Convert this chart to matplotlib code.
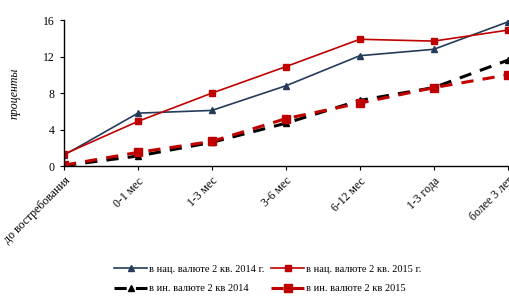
import matplotlib.pyplot as plt
import numpy as np

plt.rcParams['font.family'] = ['Liberation Serif', 'DejaVu Serif']

categories = ["до востребования", "0-1 мес", "1-3 мес", "3-6 мес",
              "6-12 мес", "1-3 года", "более 3 лет"]
nat_2014 = [1.2, 5.8, 6.1, 8.8, 12.1, 12.8, 15.8]
nat_2015 = [1.3, 4.9, 8.0, 10.9, 13.9, 13.7, 14.9]
for_2014 = [0.05, 1.1, 2.6, 4.7, 7.2, 8.6, 11.6]
for_2015 = [0.1, 1.5, 2.7, 5.2, 6.9, 8.6, 10.0]

x = np.arange(len(categories))

fig = plt.figure(figsize=(5.1, 2.96), dpi=100)
ax = fig.add_axes([0.1255, 0.439, 0.87, 0.493])

l1, = ax.plot(x, nat_2014, color="#243b5a", lw=1.2, marker="^", ms=5,
              label="в нац. валюте 2 кв. 2014 г.")
l2, = ax.plot(x, nat_2015, color="#c00000", lw=1.2, marker="s", ms=4.5,
              label="в нац. валюте 2 кв. 2015 г.")
l3, = ax.plot(x, for_2014, color="black", lw=2.2, ls=(0, (4, 3)), marker="^", ms=5,
              label="в ин. валюте 2 кв 2014")
l4, = ax.plot(x, for_2015, color="#c00000", lw=2.2, ls=(0, (4, 3)), marker="s", ms=6,
              label="в ин. валюте 2 кв 2015")

ax.set_xlim(0, 6)
ax.set_ylim(0, 16)
ax.set_yticks([0, 4, 8, 12, 16])
ax.set_xticks(x)
ax.set_xticklabels(categories, rotation=45, ha="right", rotation_mode="anchor")
ax.tick_params(labelsize=8.5, length=3, width=0.8)
ax.spines["top"].set_visible(False)
ax.spines["right"].set_visible(False)
for s in ["left", "bottom"]:
    ax.spines[s].set_linewidth(1.0)
ax.set_ylabel("проценты", fontstyle="italic", fontsize=8.5, labelpad=16)

fig.legend(handles=[l1, l3, l2, l4], ncol=2, loc="center",
           bbox_to_anchor=(0.525, 0.058), frameon=False, fontsize=7.5,
           handlelength=3.2, handletextpad=0.2, columnspacing=0.6,
           labelspacing=1.0)

fig.savefig("out.png", dpi=100)
